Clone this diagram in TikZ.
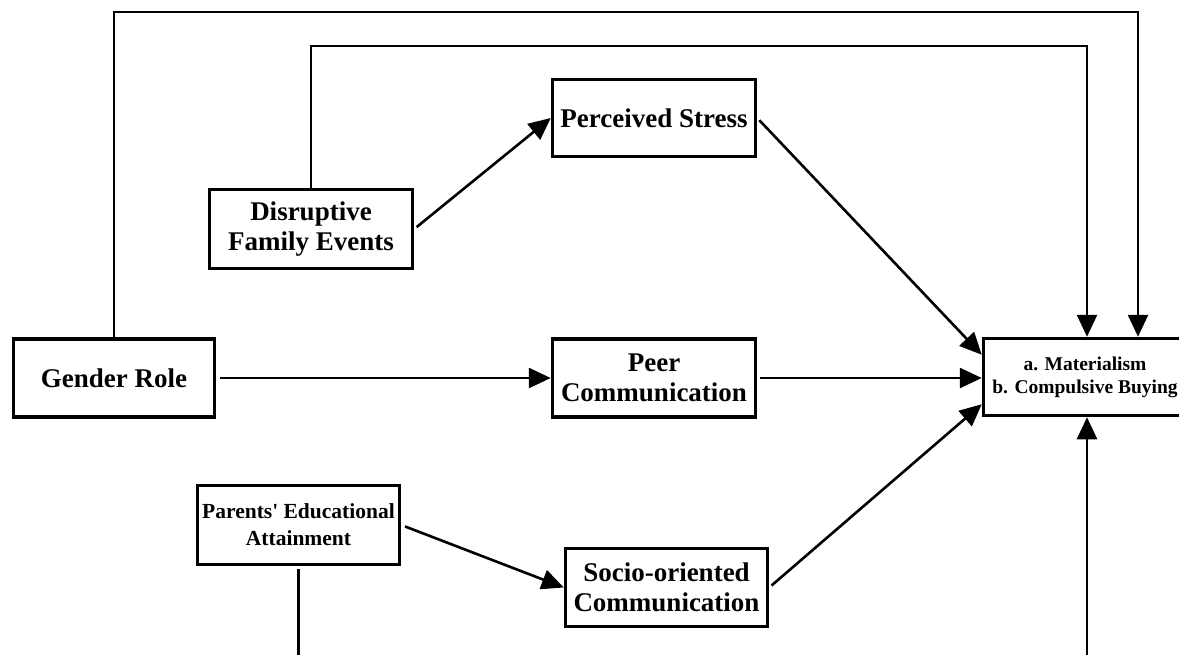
\documentclass[tikz,border=0pt]{standalone}
\usepackage{fontspec}
\setmainfont{Liberation Serif}
\newfontfamily\plainserif{Liberation Serif}
\usetikzlibrary{arrows.meta,calc}
\begin{document}
\begin{tikzpicture}[x=1pt,y=-1pt,
  box/.style={draw,line width=3.5pt,inner sep=0pt,align=center,
    font=\bfseries\fontsize{27}{30}\selectfont},
  conn/.style={line width=2.6pt},
  arr/.style={conn,-{Triangle[length=22pt,width=20pt]}}]
\useasboundingbox (0,0) rectangle (1179,654);
\clip (0,0) rectangle (1179,654);
% nodes
\node[box,minimum width=201pt,minimum height=78pt] (GR) at (114,378) {Gender Role};
\node[box,minimum width=203pt,minimum height=79pt] (DFE) at (311,229) {Disruptive\\Family Events};
\node[box,minimum width=203pt,minimum height=77pt] (PS) at (654,118) {Perceived Stress};
\node[box,minimum width=203pt,minimum height=78pt] (PC) at (654,378) {Peer\\Communication};
\node[box,minimum width=202pt,minimum height=79pt,
  font=\bfseries\fontsize{21.5}{27}\selectfont] (PEA) at (298.5,525) {Parents{\plainserif\bfseries '} Educational\\Attainment};
\node[box,minimum width=202pt,minimum height=78pt] (SOC) at (666.5,587.5) {Socio-oriented\\Communication};
\node[box,minimum width=203pt,minimum height=77pt,
  font=\bfseries\fontsize{19.5}{23}\selectfont] (OUT) at (1085,377) {a. Materialism\\b. Compulsive Buying};
% connectors
\coordinate (T1) at (1138,12);
\coordinate (T2) at (1087,46);
\coordinate (B) at (1087,670);
\draw[arr] (GR.north) |- (T1) -- (T1 |- OUT.north);
\draw[arr] (DFE.north) |- (T2) -- (T2 |- OUT.north);
\draw[arr,shorten <=3pt] (DFE.east) -- (PS.west);
\draw[arr,shorten <=3pt] (PS.east) -- ($(OUT.north west)+(0,18)$);
\draw[arr,shorten <=4pt] (GR.east) -- (PC.west);
\draw[arr,shorten <=3pt] (PC.east) -- (OUT.west |- PC.east);
\draw[arr,shorten <=4pt] (PEA.east) -- (SOC.west);
\draw[arr,shorten <=3pt] (SOC.east) -- ($(OUT.south west)+(0,-13)$);
\draw[conn,shorten <=3pt] (PEA.south) -- ++(0,120);
\draw[arr] (B) -- (B |- OUT.south);
\end{tikzpicture}
\end{document}
